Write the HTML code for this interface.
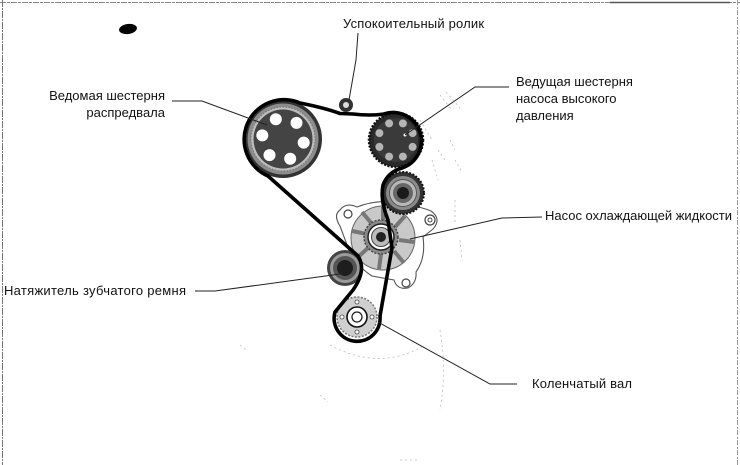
<!DOCTYPE html>
<html>
<head>
<meta charset="utf-8">
<style>
  html, body { margin: 0; padding: 0; background: #fff; }
  body { width: 740px; height: 465px; overflow: hidden; }
  svg { display: block; }
  text { font-family: "Liberation Sans", "Noto Sans CJK SC", sans-serif; font-size: 13px; fill: #111; }
</style>
</head>
<body>
<svg width="740" height="465" viewBox="0 0 740 465" xmlns="http://www.w3.org/2000/svg">
  <!-- frame -->
  <line x1="0" y1="2.5" x2="740" y2="2.5" stroke="#888" stroke-width="1" stroke-dasharray="6 1 3 1"/>
  <line x1="610" y1="2.5" x2="730" y2="2.5" stroke="#555" stroke-width="1.5"/>
  <line x1="2.5" y1="0" x2="2.5" y2="465" stroke="#777" stroke-width="1" stroke-dasharray="7 1 2 1"/>
  <line x1="737.5" y1="0" x2="737.5" y2="465" stroke="#999" stroke-width="1" stroke-dasharray="5 2 2 1"/>

  <!-- blob -->
  <ellipse cx="128" cy="29" rx="9" ry="5" fill="#000" transform="rotate(-8 128 29)"/>

  <!-- faint background sketch -->
  <g stroke="#bbb" stroke-width="0.8" fill="none" stroke-dasharray="2 3">
    <path d="M440,95 L452,110 M446,92 L460,108 M438,150 L445,160 M450,140 L455,150 M455,160 L462,172"/>
    <path d="M455,200 L455,225 M460,240 L462,260"/>
    <path d="M330,345 Q380,372 425,345"/>
    <path d="M440,330 Q447,370 440,410"/>
    <path d="M240,345 L246,350 M320,395 L328,402 M400,460 L420,460"/>
    <path d="M420,120 L432,140 M432,160 L438,180"/>
  </g>

  <!-- water pump housing -->
  <path d="M340,210 Q346,202 357,207 Q382,197 410,205 Q424,208 431,211 Q442,219 433,229 L423,237 Q426,258 416,272 Q417,283 408,288 Q397,290 394,280 L372,276 Q352,263 346,242 L340,226 Q333,215 340,210 Z" fill="#fff" stroke="#555" stroke-width="1.1"/>
  <circle cx="348" cy="214" r="4" fill="#fff" stroke="#444" stroke-width="1.2"/>
  <circle cx="430" cy="220" r="5" fill="#fff" stroke="#444" stroke-width="1.2"/>
  <circle cx="430" cy="220" r="2" fill="#fff" stroke="#444" stroke-width="1"/>
  <circle cx="406" cy="283" r="4" fill="#fff" stroke="#444" stroke-width="1.2"/>
  <!-- impeller disk -->
  <circle cx="383" cy="238" r="32" fill="#c9c9c9" stroke="#666" stroke-width="1"/>
  <g stroke="#777" stroke-width="4">
    <line x1="383" y1="222" x2="383" y2="207"/>
    <line x1="395" y1="227" x2="405" y2="216"/>
    <line x1="399" y1="240" x2="414" y2="242"/>
    <line x1="394" y1="251" x2="404" y2="263"/>
    <line x1="381" y1="254" x2="379" y2="269"/>
    <line x1="368" y1="248" x2="357" y2="258"/>
    <line x1="367" y1="234" x2="352" y2="231"/>
    <line x1="372" y1="224" x2="362" y2="212"/>
  </g>
  <circle cx="381" cy="237" r="17" fill="#8a8a8a" stroke="#444" stroke-width="1.5" stroke-dasharray="2 1.5"/>
  <circle cx="381" cy="237" r="13" fill="#fff" stroke="#222" stroke-width="1.5"/>
  <circle cx="381" cy="237" r="9.5" fill="#bbb" stroke="#444" stroke-width="1"/>
  <circle cx="381" cy="237" r="5" fill="#222"/>

  <!-- camshaft gear -->
  <circle cx="283" cy="139" r="39" fill="#333"/>
  <circle cx="283" cy="139" r="35.5" fill="#8c8c8c"/>
  <circle cx="283" cy="139" r="32" fill="#bdbdbd" stroke="#777" stroke-width="1" stroke-dasharray="1.5 1.5"/>
  <circle cx="283" cy="139" r="29.5" fill="#444"/>
  <g fill="#fff">
    <circle cx="275.8" cy="119.3" r="6"/>
    <circle cx="296.5" cy="122.9" r="6"/>
    <circle cx="303.7" cy="142.6" r="6"/>
    <circle cx="290.2" cy="158.7" r="6"/>
    <circle cx="269.5" cy="155.1" r="6"/>
    <circle cx="262.3" cy="135.4" r="6"/>
  </g>

  <!-- HP pump gear -->
  <circle cx="396" cy="140" r="27" fill="#2a2a2a" stroke="#111" stroke-width="2.5" stroke-dasharray="2 1.5"/>
  <circle cx="396" cy="140" r="22" fill="#3a3a3a"/>
  <g fill="#b5b5b5">
    <circle cx="412.6" cy="146.9" r="4"/>
    <circle cx="402.9" cy="156.6" r="4"/>
    <circle cx="389.1" cy="156.6" r="4"/>
    <circle cx="379.4" cy="146.9" r="4"/>
    <circle cx="379.4" cy="133.1" r="4"/>
    <circle cx="389.1" cy="123.4" r="4"/>
    <circle cx="402.9" cy="123.4" r="4"/>
    <circle cx="412.6" cy="133.1" r="4"/>
  </g>
  <circle cx="405" cy="135" r="1.5" fill="#fff"/>

  <!-- idler pulley -->
  <circle cx="403" cy="193" r="21" fill="#333" stroke="#111" stroke-width="2" stroke-dasharray="2 1.5"/>
  <circle cx="403" cy="193" r="17" fill="#8a8a8a"/>
  <circle cx="403" cy="193" r="13.5" fill="#b8b8b8" stroke="#555" stroke-width="1"/>
  <circle cx="403" cy="193" r="10" fill="#666"/>
  <circle cx="403" cy="193" r="6" fill="#1a1a1a"/>

  <!-- tensioner -->
  <circle cx="345" cy="268" r="18" fill="#444"/>
  <circle cx="345" cy="268" r="15" fill="#9a9a9a"/>
  <circle cx="345" cy="268" r="12" fill="#555"/>
  <circle cx="345" cy="268" r="8" fill="#1e1e1e"/>

  <!-- crankshaft -->
  <circle cx="357" cy="317" r="20" fill="#cfcfcf" stroke="#777" stroke-width="1.5" stroke-dasharray="2 1.5"/>
  <circle cx="357" cy="317" r="10" fill="#fff" stroke="#111" stroke-width="1.6"/>
  <circle cx="357" cy="317" r="5" fill="#fff" stroke="#222" stroke-width="1.3"/>
  <g fill="#fff" stroke="#444" stroke-width="0.8">
    <circle cx="357" cy="302" r="2"/>
    <circle cx="372" cy="317" r="2"/>
    <circle cx="357" cy="332" r="2"/>
    <circle cx="342" cy="317" r="2"/>
  </g>

  <!-- idler roller (small) -->
  <circle cx="346" cy="105" r="7" fill="#333"/>
  <circle cx="346" cy="105" r="3" fill="#ddd"/>

  <!-- timing belt -->
  <path d="M268,176 A39,39 0 1 1 300,103 Q325,108 340,113.5 L353,114 Q370,116 384,114 A28,28 0 1 1 402,168 Q388,172 383,185 Q380,200 388,220 L392,248 L380,316 A23,23 0 1 1 335,312 L353,290 Q367,270 358,256 Z" fill="none" stroke="#000" stroke-width="3.6" stroke-linejoin="round"/>

  <!-- leader lines -->
  <g stroke="#222" stroke-width="1" fill="none">
    <path d="M358,33 L356,60 L349,100"/>
    <path d="M172,101 L202,101 L267,125"/>
    <path d="M509,87 L475,87 L405,135"/>
    <path d="M542,217 L502,218 L410,239"/>
    <path d="M195,291 L215,291 L340,274"/>
    <path d="M517,384 L490,384 L378,322"/>
  </g>

  <!-- labels -->
  <text x="343" y="28" textLength="141">Успокоительный ролик</text>
  <text x="165" y="100" text-anchor="end">Ведомая шестерня</text>
  <text x="165" y="117" text-anchor="end">распредвала</text>
  <text x="516" y="86">Ведущая шестерня</text>
  <text x="516" y="103">насоса высокого</text>
  <text x="516" y="120">давления</text>
  <text x="545" y="220" textLength="187">Насос охлаждающей жидкости</text>
  <text x="4" y="295" textLength="182">Натяжитель зубчатого ремня</text>
  <text x="532" y="388" textLength="100">Коленчатый вал</text>
</svg>
</body>
</html>
